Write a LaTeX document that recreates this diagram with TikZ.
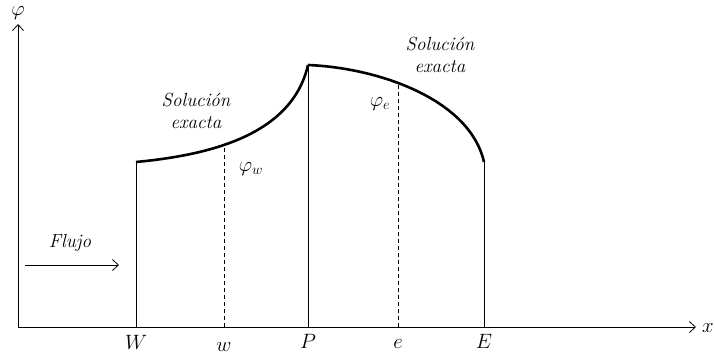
\documentclass[tikz,border=0pt]{standalone}
\usetikzlibrary{arrows.meta}
\begin{document}
\begin{tikzpicture}[x=1pt,y=-1pt,
		axis/.style={-{Straight Barb[length=6pt,width=11pt]}, line width=0.8pt},
		lbl/.style={font=\fontsize{19}{22}\selectfont\itshape, inner sep=0pt},
		mlbl/.style={font=\fontsize{21}{24}\selectfont, inner sep=0pt},
		wall/.style={line width=0.9pt},
		probe/.style={line width=0.8pt, dash pattern=on 4pt off 3pt},
		exact/.style={line width=2.6pt}
		]
		\useasboundingbox (0,0) rectangle (715,356);
		% axes
		\coordinate (O) at (18,327);
		\coordinate (ytop) at (18,24);
		\coordinate (xend) at (696,327);
		\draw[axis] (O) -- (ytop);
		\draw[axis] (O) -- (xend);
		\node[mlbl] (phi) at (18,13) {$\varphi$};
		\node[mlbl, anchor=west] (xlab) at (702,328) {$x$};
		% nodes on the axis
		\coordinate (Wb) at (136,327);
		\coordinate (wb) at (224,327);
		\coordinate (Pb) at (308,327);
		\coordinate (eb) at (398,327);
		\coordinate (Eb) at (484,327);
		\node[mlbl] (W) at (136,342) {$W$};
		\node[mlbl] (w) at (224,347) {$w$};
		\node[mlbl] (P) at (308,341) {$P$};
		\node[mlbl] (e) at (398,344) {$e$};
		\node[mlbl] (E) at (484,341) {$E$};
		% values
		\coordinate (Wt) at (136,162);
		\coordinate (wt) at (224,147);
		\coordinate (Pt) at (308,65);
		\coordinate (et) at (398,84);
		\coordinate (Et) at (484,162);
		\draw[wall] (Wb) -- (Wt);
		\draw[wall] (Pb) -- (Pt);
		\draw[wall] (Eb) -- (Et);
		\draw[probe] (wb) -- (wt);
		\draw[probe] (eb) -- (et);
		% exact solution
		\draw[exact] (Wt) .. controls (210,155) and (292,135) .. (Pt);
		\draw[exact] (Pt) .. controls (380,68) and (470,100) .. (Et);
		\node[lbl, align=center] (solw) at (196,111) {Soluci\'on\\exacta};
		\node[lbl, align=center] (sole) at (440,55) {Soluci\'on\\exacta};
		\node[mlbl] (phiw) at (251,169) {$\varphi_w$};
		\node[mlbl] (phie) at (380,104) {$\varphi_e$};
		% flow
		\node[lbl] (flujo) at (70,243) {Flujo};
		\coordinate (fa) at (25,265);
		\coordinate (fb) at (119,265);
		\draw[axis] (fa) -- (fb);
	\end{tikzpicture}
\end{document}
